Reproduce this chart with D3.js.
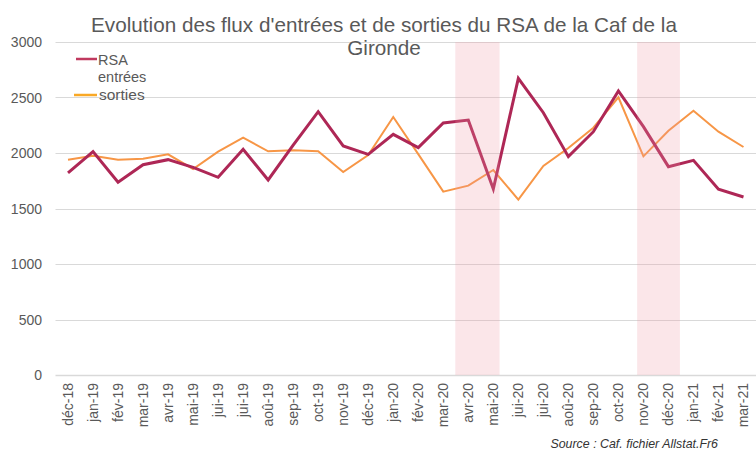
<!DOCTYPE html>
<html><head><meta charset="utf-8">
<script src="https://cdn.jsdelivr.net/npm/d3@7/dist/d3.min.js"></script>
<style>body{margin:0;background:#fff;}svg{display:block;font-family:"Liberation Sans",Arial,sans-serif;}</style>
</head><body><svg id="c" width="756" height="451"></svg>
<script>
const categories = ["déc-18","jan-19","fév-19","mar-19","avr-19","mai-19","jui-19","jui-19","aoû-19","sep-19","oct-19","nov-19","déc-19","jan-20","fév-20","mar-20","avr-20","mai-20","jui-20","jui-20","aoû-20","sep-20","oct-20","nov-20","déc-20","jan-21","fév-21","mar-21"];
const entrees = [1820,2012,1736,1895,1940,1870,1781,2033,1757,2070,2372,2063,1988,2168,2048,2270,2297,1676,2673,2363,1967,2192,2559,2237,1877,1934,1673,1604];
const sorties = [1940,1976,1940,1949,1988,1856,2012,2138,2015,2024,2015,1829,1982,2324,1990,1652,1706,1847,1580,1883,2045,2228,2502,1970,2201,2381,2192,2054];
const yTicks = [0,500,1000,1500,2000,2500,3000];
// shaded periods, in category-index units
const bands = [[15.48,17.25],[22.75,24.46]];
const titleLines = ["Evolution des flux d'entrées et de sorties du RSA de la Caf de la","Gironde"];
const legendLabels = [["RSA","entrées"],["sorties"]];
const sourceText = "Source : Caf. fichier Allstat.Fr6";

(function(){
const svg = d3.select("#c");
const pL = 55.5, pR = 756, pT = 42, pB = 375;
const x = d3.scaleBand().domain(d3.range(categories.length)).range([pL, pR]);
const xi = d3.scaleLinear().domain([0, categories.length - 1]).range([x(0)+x.bandwidth()/2, x(categories.length-1)+x.bandwidth()/2]);
const y = d3.scaleLinear().domain([0,3000]).range([pB, pT]);

// grid
svg.append("g").selectAll("line").data(yTicks).join("line")
  .attr("x1", pL).attr("x2", pR)
  .attr("y1", d=>Math.round(y(d))+0.5).attr("y2", d=>Math.round(y(d))+0.5)
  .attr("stroke", "#d9d9d9").attr("stroke-width", d=> d===0 ? 1.5 : 1);

// y labels
svg.append("g").selectAll("text").data(yTicks).join("text")
  .attr("x", 42).attr("y", d=>y(d)+5).attr("text-anchor","end")
  .attr("font-size", 14).attr("fill","#595959").text(d=>d);

// x labels
svg.append("g").selectAll("text").data(categories).join("text")
  .attr("transform",(d,i)=>`translate(${xi(i)+5},383) rotate(-90)`)
  .attr("text-anchor","end").attr("font-size",14).attr("fill","#595959").text(d=>d);

// lines
const line = d3.line().x((d,i)=>xi(i)).y(d=>y(d));
svg.append("path").datum(sorties).attr("d", line).attr("fill","none")
  .attr("stroke","#F79646").attr("stroke-width",2).attr("stroke-linejoin","miter");
svg.append("path").datum(entrees).attr("d", line).attr("fill","none")
  .attr("stroke","#AE2756").attr("stroke-width",3).attr("stroke-linejoin","miter");

// shaded bands on top
svg.append("g").selectAll("rect").data(bands).join("rect")
  .attr("x", d=>xi(d[0])).attr("width", d=>xi(d[1])-xi(d[0]))
  .attr("y", pT).attr("height", pB-pT)
  .attr("fill","rgb(240,150,165)").attr("fill-opacity",0.24);

// title
svg.append("g").selectAll("text").data(titleLines).join("text")
  .attr("x", 384).attr("y",(d,i)=>32+i*23).attr("text-anchor","middle")
  .attr("font-size",20.7).attr("fill","#595959").text(d=>d);

// legend
const lg = svg.append("g");
lg.append("line").attr("x1",76).attr("x2",97).attr("y1",59).attr("y2",59).attr("stroke","#C0395F").attr("stroke-width",2.5);
lg.append("text").attr("x",98).attr("y",65).attr("font-size",14.5).attr("fill","#595959").text(legendLabels[0][0]);
lg.append("text").attr("x",98).attr("y",82).attr("font-size",14.5).attr("fill","#595959").text(legendLabels[0][1]);
lg.append("line").attr("x1",74).attr("x2",97).attr("y1",95).attr("y2",95).attr("stroke","#F9A825").attr("stroke-width",2.5);
lg.append("text").attr("x",99).attr("y",100).attr("font-size",15.5).attr("fill","#595959").text(legendLabels[1][0]);

// source
svg.append("text").attr("x",718).attr("y",448).attr("text-anchor","end")
  .attr("font-size",12.4).attr("font-style","italic").attr("fill","#333").text(sourceText);
})();
</script></body></html>
